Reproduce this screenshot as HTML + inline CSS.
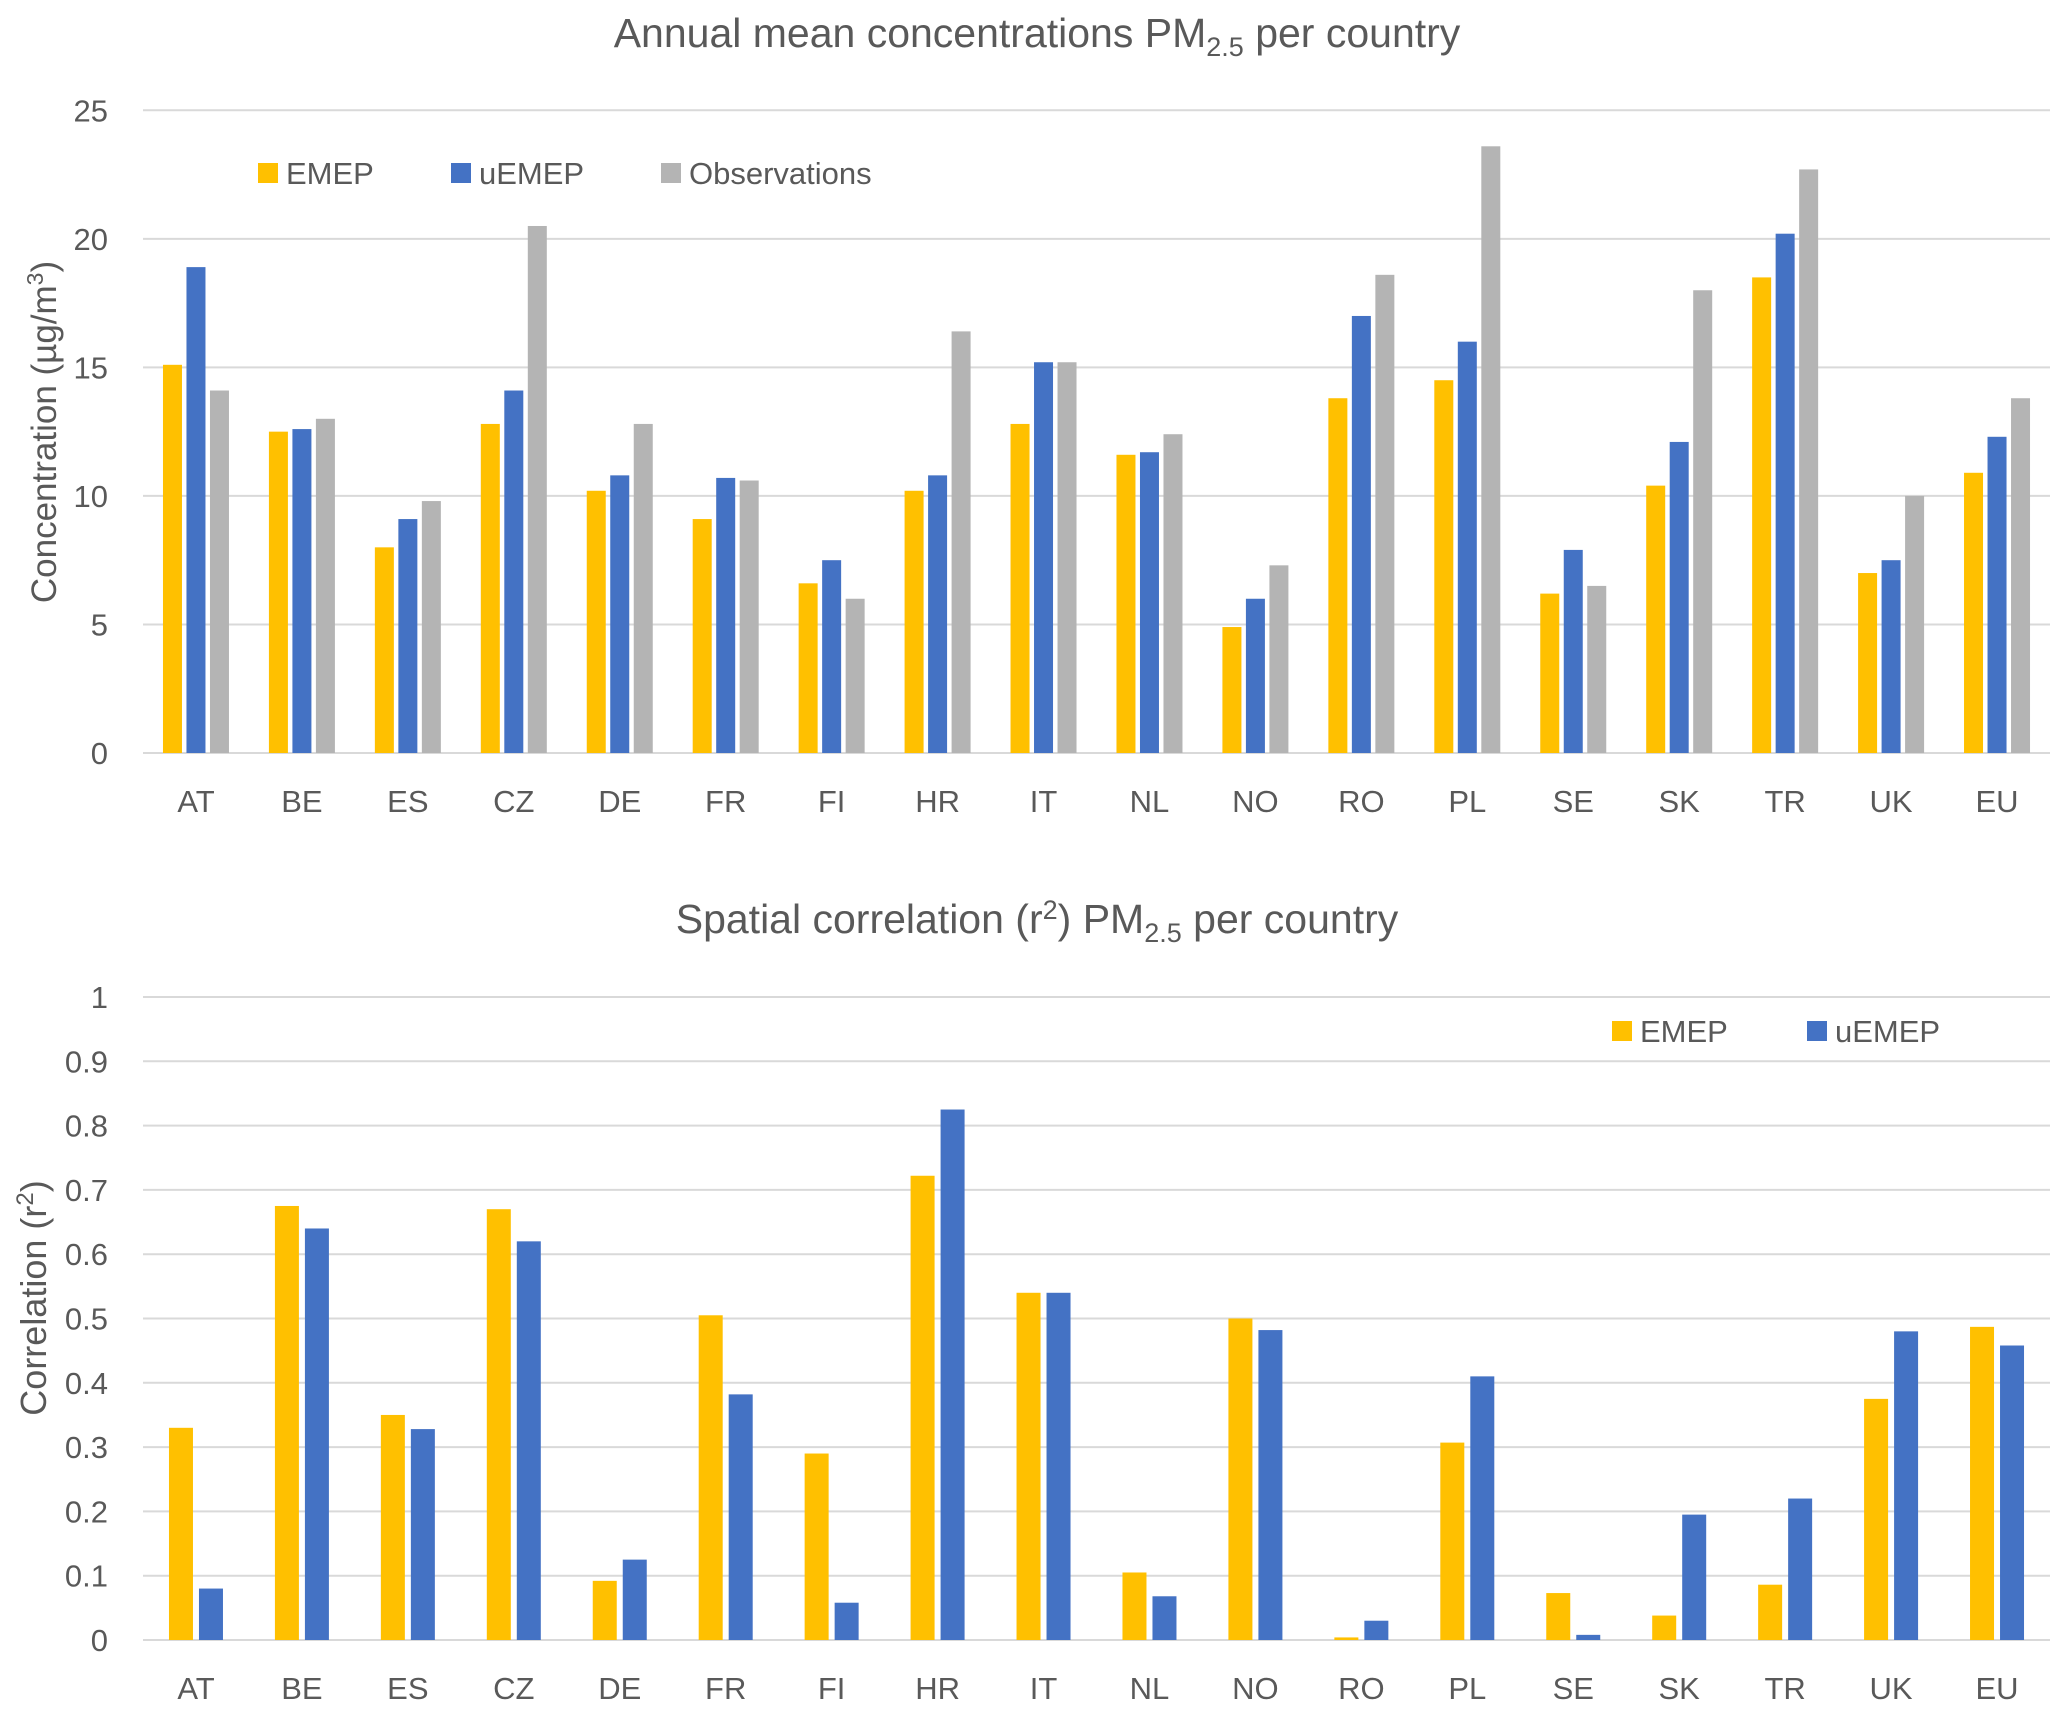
<!DOCTYPE html>
<html><head><meta charset="utf-8"><style>
body{margin:0;background:#fff;}
svg{display:block;font-family:"Liberation Sans",sans-serif;}
</style></head><body>
<svg id="svg" width="2067" height="1715" viewBox="0 0 2067 1715" xmlns="http://www.w3.org/2000/svg">
<rect width="2067" height="1715" fill="#fff"/>
<text x="1037" y="47" text-anchor="middle" font-size="41" fill="#595959">Annual mean concentrations PM<tspan font-size="27" dy="9">2.5</tspan><tspan dy="-9"> per country</tspan></text>
<text x="1037" y="933" text-anchor="middle" font-size="41" fill="#595959">Spatial correlation (r<tspan font-size="27" dy="-14">2</tspan><tspan dy="14">) PM</tspan><tspan font-size="27" dy="9">2.5</tspan><tspan dy="-9"> per country</tspan></text>
<text transform="translate(56,432) rotate(-90)" text-anchor="middle" font-size="35" fill="#595959">Concentration (µg/m<tspan font-size="23" dy="-13">3</tspan><tspan dy="13">)</tspan></text>
<text transform="translate(46,1298) rotate(-90)" text-anchor="middle" font-size="36" fill="#595959">Correlation (r<tspan font-size="24" dy="-13">2</tspan><tspan dy="13">)</tspan></text>
<g id="top"></g><g id="bot"></g>
<g font-size="31" fill="#595959">
<rect x="258" y="163" width="20" height="20" fill="#FFC000"/>
<text x="286" y="184">EMEP</text>
<rect x="451" y="163" width="20" height="20" fill="#4472C4"/>
<text x="479" y="184">uEMEP</text>
<rect x="661" y="163" width="20" height="20" fill="#B4B4B4"/>
<text x="689" y="184">Observations</text>
</g>
<g font-size="31" fill="#595959">
<rect x="1612" y="1021" width="20" height="20" fill="#FFC000"/>
<text x="1640" y="1042">EMEP</text>
<rect x="1807" y="1021" width="20" height="20" fill="#4472C4"/>
<text x="1835" y="1042">uEMEP</text>
</g>
</svg>
<script>
const categories=["AT","BE","ES","CZ","DE","FR","FI","HR","IT","NL","NO","RO","PL","SE","SK","TR","UK","EU"];
const concEMEP=[15.1,12.5,8.0,12.8,10.2,9.1,6.6,10.2,12.8,11.6,4.9,13.8,14.5,6.2,10.4,18.5,7.0,10.9];
const concUEMEP=[18.9,12.6,9.1,14.1,10.8,10.7,7.5,10.8,15.2,11.7,6.0,17.0,16.0,7.9,12.1,20.2,7.5,12.3];
const concObs=[14.1,13.0,9.8,20.5,12.8,10.6,6.0,16.4,15.2,12.4,7.3,18.6,23.6,6.5,18.0,22.7,10.0,13.8];
const corrEMEP=[0.33,0.675,0.35,0.67,0.092,0.505,0.29,0.722,0.54,0.105,0.50,0.004,0.307,0.073,0.038,0.086,0.375,0.487];
const corrUEMEP=[0.08,0.64,0.328,0.62,0.125,0.382,0.058,0.825,0.54,0.068,0.482,0.03,0.41,0.008,0.195,0.22,0.48,0.458];
const topTicks=[0,5,10,15,20,25];
const botTicks=["0","0.1","0.2","0.3","0.4","0.5","0.6","0.7","0.8","0.9","1"];
const NS="http://www.w3.org/2000/svg";
const X0=143,X1=2050,GW=(X1-X0)/categories.length;
function mk(p,t,a){const e=document.createElementNS(NS,t);for(const k in a)e.setAttribute(k,a[k]);p.appendChild(e);return e;}
function chart(g,y0,y1,max,ticks,series,colors,names,bw,step,xlabY,pref){
  const ys=v=>y0-(v/max)*(y0-y1);
  ticks.forEach(t=>{const v=parseFloat(t);
    const l=mk(g,'line',{x1:X0,x2:X1,y1:ys(v),y2:ys(v),stroke:'#d9d9d9','stroke-width':2});
    
    
    const tx=mk(g,'text',{x:108,y:ys(v)+11,'text-anchor':'end','font-size':31,fill:'#595959'});tx.textContent=String(t);
    
    
  });
  categories.forEach((c,i)=>{const cx=X0+GW*(i+0.5);
    series.forEach((s,j)=>{const bx=cx+(j-(series.length-1)/2)*step-bw/2;
      const r=mk(g,'rect',{x:bx,y:ys(s[i]),width:bw,height:y0-ys(s[i]),fill:colors[j]});
      
      
    });
    const t=mk(g,'text',{x:cx,y:xlabY,'text-anchor':'middle','font-size':31,fill:'#595959'});t.textContent=c;
    
    
  });
}
chart(document.getElementById('top'),753,110.3,25,topTicks,[concEMEP,concUEMEP,concObs],['#FFC000','#4472C4','#B4B4B4'],['emep','uemep','obs'],19,23.5,812,'top-');
chart(document.getElementById('bot'),1640,997,1,botTicks,[corrEMEP,corrUEMEP],['#FFC000','#4472C4'],['emep','uemep'],24,30,1699,'bottom-');
</script>
</body></html>
